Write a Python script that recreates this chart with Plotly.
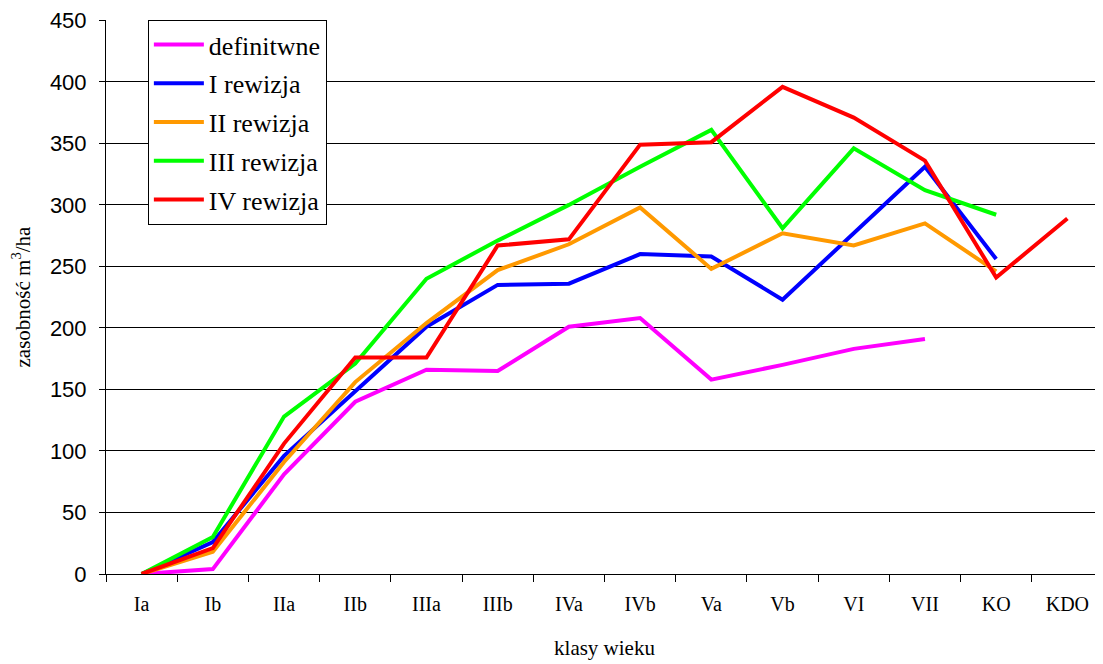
import plotly.graph_objects as go

# age classes on the x axis
klasy = ["Ia", "Ib", "IIa", "IIb", "IIIa", "IIIb", "IVa", "IVb", "Va", "Vb", "VI", "VII", "KO", "KDO"]

# growing stock (m3/ha) per revision, None where no data
definitwne = [0, 4, 81, 140, 166, 165, 201, 208, 158, 170, 183, 191, None, None]
rewizja_1 = [0, 26, 96, 148, 201, 235, 236, 260, 258, 223, 277, 331, 256, None]
rewizja_2 = [0, 18, 91, 156, 204, 247, 268, 298, 248, 277, 267, 285, 246, None]
rewizja_3 = [0, 30, 128, 171, 240, 271, 300, 331, 361, 281, 346, 312, 292, None]
rewizja_4 = [0, 21, 106, 176, 176, 267, 272, 349, 351, 396, 371, 336, 241, 289]

serie = [
    ("definitwne", definitwne, "#FF00FF"),
    ("I rewizja", rewizja_1, "#0000FF"),
    ("II rewizja", rewizja_2, "#FF9900"),
    ("III rewizja", rewizja_3, "#00FF00"),
    ("IV rewizja", rewizja_4, "#FF0000"),
]

fig = go.Figure()
for i, (nazwa, wartosci, kolor) in enumerate(serie):
    fig.add_trace(go.Scatter(
        x=klasy, y=wartosci, mode="lines", name=nazwa,
        line=dict(color=kolor, width=4),
        legendgroup=f"g{i}",
        connectgaps=False,
    ))

serif = "Liberation Serif, Times New Roman, serif"

# page body has an 8px margin, so offsets are compensated here
fig.update_layout(
    width=1103, height=664,
    margin=dict(l=98, r=8, t=12, b=98, autoexpand=False),
    plot_bgcolor="white", paper_bgcolor="white",
    showlegend=True,
    legend=dict(
        x=0.042, y=1.0, xanchor="left", yanchor="top",
        bgcolor="white", bordercolor="black", borderwidth=1,
        font=dict(family=serif, size=26, color="black"),
        tracegroupgap=2, itemwidth=50,
    ),
    xaxis=dict(
        type="category", categoryorder="array", categoryarray=klasy,
        range=[-0.5, 13.5], tickson="boundaries",
        showline=True, linecolor="black", linewidth=1,
        ticks="outside", ticklen=7, tickcolor="black",
        showgrid=False, zeroline=False,
        ticklabelstandoff=12,
        tickfont=dict(family=serif, size=20, color="black"),
        title=dict(text="klasy wieku", font=dict(family=serif, size=21, color="black"), standoff=26),
    ),
    yaxis=dict(
        range=[0, 450.3], tickvals=[0, 50, 100, 150, 200, 250, 300, 350, 400, 450],
        showline=True, linecolor="black", linewidth=1,
        ticks="outside", ticklen=6, tickcolor="black",
        showgrid=True, gridcolor="black", gridwidth=1,
        zeroline=False,
        ticklabelstandoff=8, ticklabeloverflow="allow",
        tickfont=dict(family="Liberation Sans, Arial, sans-serif", size=22, color="black"),
        title=dict(text="zasobność m<sup>3</sup>/ha", font=dict(family=serif, size=21, color="black"), standoff=14),
    ),
)

fig.write_html("out.html")
